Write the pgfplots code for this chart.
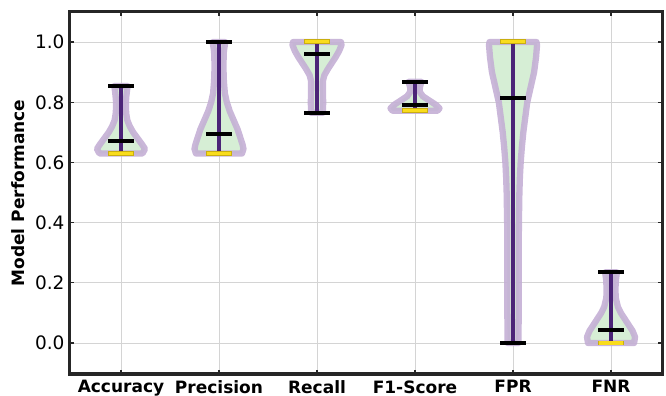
\documentclass[border=0pt]{standalone}
\usepackage{pgfplots}
\pgfplotsset{compat=1.18}
\usepackage{fontspec}
\setmainfont{DejaVu Sans}
\definecolor{vfill}{HTML}{D3EDD1}
\definecolor{vedge}{HTML}{C4AFD5}
\definecolor{vline}{HTML}{4B2477}
\definecolor{vyel}{HTML}{F9DC1C}
\definecolor{vyeledge}{HTML}{C9AE10}
\definecolor{frame}{HTML}{262626}
\begin{document}
\begin{tikzpicture}
\begin{axis}[
  width=592bp, height=362bp, scale only axis,
  xmin=-0.52, xmax=5.52, ymin=-0.103, ymax=1.1,
  xtick={0,1,2,3,4,5},
  xticklabels={Accuracy,Precision,Recall,F1-Score,FPR,FNR},
  ytick={0,0.2,0.4,0.6,0.8,1.0},
  /pgf/number format/assume math mode=true,
  yticklabel={\pgfmathprintnumber[fixed,fixed zerofill,precision=1]{\tick}},
  yticklabel style={font=\fontsize{18.5bp}{22bp}\selectfont, xshift=-2bp},
  xticklabel style={font=\fontsize{17bp}{20bp}\selectfont\bfseries, yshift=-3bp},
  ylabel={Model Performance},
  ylabel style={font=\fontsize{17bp}{20bp}\selectfont\bfseries, at={(axis description cs:-0.0878,0.5)}, anchor=center},
  grid=major, major grid style={line width=0.8bp, color=black!17},
  tick align=inside, major tick length=4bp,
  every tick/.style={line width=1.2bp, frame},
  axis line style={line width=3bp, frame},
  violin/.style={fill=vfill, draw=vedge, line width=6.3bp, line join=round, fill opacity=0.92, draw opacity=0.9},
  vert/.style={vline, line width=4bp},
  bar/.style={black, line width=4bp},
  ybar out/.style={vyeledge, line width=4.6bp},
  ybar in/.style={vyel, line width=3.4bp},
]
% ---- Accuracy (x=0)
\addplot[violin] coordinates {
 (0.22,0.63) (0.245,0.645) (0.215,0.66) (0.17,0.68) (0.125,0.70) (0.09,0.72) (0.065,0.74) (0.055,0.76) (0.05,0.78) (0.05,0.80) (0.055,0.82) (0.062,0.84) (0.068,0.854)
 (-0.068,0.854) (-0.062,0.84) (-0.055,0.82) (-0.05,0.80) (-0.05,0.78) (-0.055,0.76) (-0.065,0.74) (-0.09,0.72) (-0.125,0.70) (-0.17,0.68) (-0.215,0.66) (-0.245,0.645) (-0.22,0.63)
} -- cycle;
% ---- Precision (x=1)
\addplot[violin] coordinates {
 (1.235,0.63) (1.25,0.645) (1.24,0.66) (1.22,0.68) (1.19,0.71) (1.15,0.74) (1.11,0.77) (1.08,0.80) (1.06,0.83) (1.05,0.87) (1.045,0.92) (1.05,0.97) (1.065,1.0)
 (0.935,1.0) (0.95,0.97) (0.955,0.92) (0.95,0.87) (0.94,0.83) (0.92,0.80) (0.89,0.77) (0.85,0.74) (0.81,0.71) (0.78,0.68) (0.76,0.66) (0.75,0.645) (0.765,0.63)
} -- cycle;
% ---- Recall (x=2)
\addplot[violin] coordinates {
 (2.06,0.765) (2.063,0.80) (2.06,0.84) (2.06,0.87) (2.075,0.89) (2.11,0.91) (2.15,0.93) (2.19,0.95) (2.225,0.97) (2.25,0.99) (2.245,1.0)
 (1.755,1.0) (1.75,0.99) (1.775,0.97) (1.81,0.95) (1.85,0.93) (1.89,0.91) (1.925,0.89) (1.94,0.87) (1.94,0.84) (1.937,0.80) (1.94,0.765)
} -- cycle;
% ---- F1-Score (x=3)
\addplot[violin] coordinates {
 (3.23,0.772) (3.25,0.78) (3.22,0.79) (3.15,0.805) (3.08,0.82) (3.048,0.835) (3.05,0.85) (3.065,0.868)
 (2.935,0.868) (2.95,0.85) (2.952,0.835) (2.92,0.82) (2.85,0.805) (2.78,0.79) (2.75,0.78) (2.77,0.772)
} -- cycle;
% ---- FPR (x=4)
\addplot[violin] coordinates {
 (4.055,0.0) (4.058,0.1) (4.058,0.2) (4.058,0.3) (4.06,0.4) (4.065,0.5) (4.07,0.55) (4.078,0.6) (4.09,0.65) (4.105,0.7) (4.125,0.75) (4.145,0.8) (4.18,0.85) (4.215,0.9) (4.235,0.95) (4.245,0.99) (4.24,1.0)
 (3.76,1.0) (3.755,0.99) (3.765,0.95) (3.785,0.9) (3.82,0.85) (3.855,0.8) (3.875,0.75) (3.895,0.7) (3.91,0.65) (3.922,0.6) (3.93,0.55) (3.935,0.5) (3.94,0.4) (3.942,0.3) (3.942,0.2) (3.942,0.1) (3.945,0.0)
} -- cycle;
% ---- FNR (x=5)
\addplot[violin] coordinates {
 (5.235,0.0) (5.245,0.02) (5.22,0.04) (5.18,0.06) (5.14,0.08) (5.10,0.10) (5.07,0.12) (5.048,0.15) (5.045,0.18) (5.05,0.21) (5.06,0.235)
 (4.94,0.235) (4.95,0.21) (4.955,0.18) (4.952,0.15) (4.93,0.12) (4.90,0.10) (4.86,0.08) (4.82,0.06) (4.78,0.04) (4.755,0.02) (4.765,0.0)
} -- cycle;
% ---- vertical lines (min to max)
\addplot[vert] coordinates {(0,0.63) (0,0.854)};
\addplot[vert] coordinates {(1,0.63) (1,1.0)};
\addplot[vert] coordinates {(2,0.766) (2,1.0)};
\addplot[vert] coordinates {(3,0.772) (3,0.868)};
\addplot[vert] coordinates {(4,0.0) (4,1.0)};
\addplot[vert] coordinates {(5,0.0) (5,0.235)};
% ---- black bars: max, median, min
\addplot[bar] coordinates {(-0.128,0.854) (0.128,0.854)};
\addplot[bar] coordinates {(-0.128,0.672) (0.128,0.672)};
\addplot[bar] coordinates {(-0.128,0.63) (0.128,0.63)};
\addplot[bar] coordinates {(0.872,1.0) (1.128,1.0)};
\addplot[bar] coordinates {(0.872,0.695) (1.128,0.695)};
\addplot[bar] coordinates {(0.872,0.63) (1.128,0.63)};
\addplot[bar] coordinates {(1.872,1.0) (2.128,1.0)};
\addplot[bar] coordinates {(1.872,0.959) (2.128,0.959)};
\addplot[bar] coordinates {(1.872,0.766) (2.128,0.766)};
\addplot[bar] coordinates {(2.872,0.868) (3.128,0.868)};
\addplot[bar] coordinates {(2.872,0.791) (3.128,0.791)};
\addplot[bar] coordinates {(2.872,0.772) (3.128,0.772)};
\addplot[bar] coordinates {(3.872,1.0) (4.128,1.0)};
\addplot[bar] coordinates {(3.872,0.813) (4.128,0.813)};
\addplot[bar] coordinates {(3.872,0.0) (4.128,0.0)};
\addplot[bar] coordinates {(4.872,0.235) (5.128,0.235)};
\addplot[bar] coordinates {(4.872,0.043) (5.128,0.043)};
\addplot[bar] coordinates {(4.872,0.0) (5.128,0.0)};
% ---- yellow marks
\addplot[ybar out] coordinates {(-0.128,0.629) (0.128,0.629)};
\addplot[ybar in] coordinates {(-0.122,0.629) (0.122,0.629)};
\addplot[ybar out] coordinates {(0.872,0.629) (1.128,0.629)};
\addplot[ybar in] coordinates {(0.878,0.629) (1.122,0.629)};
\addplot[ybar out] coordinates {(1.872,1.002) (2.128,1.002)};
\addplot[ybar in] coordinates {(1.878,1.002) (2.122,1.002)};
\addplot[ybar out] coordinates {(2.872,0.772) (3.128,0.772)};
\addplot[ybar in] coordinates {(2.878,0.772) (3.122,0.772)};
\addplot[ybar out] coordinates {(3.872,1.002) (4.128,1.002)};
\addplot[ybar in] coordinates {(3.878,1.002) (4.122,1.002)};
\addplot[ybar out] coordinates {(4.872,0.0) (5.128,0.0)};
\addplot[ybar in] coordinates {(4.878,0.0) (5.122,0.0)};
\end{axis}
\pgfresetboundingbox
\path (current axis.south west) ++(-70bp,-22bp) coordinate (bl);
\path (current axis.north east) ++(4bp,12bp) coordinate (tr);
\path (bl) rectangle (tr);
\end{tikzpicture}
\end{document}
